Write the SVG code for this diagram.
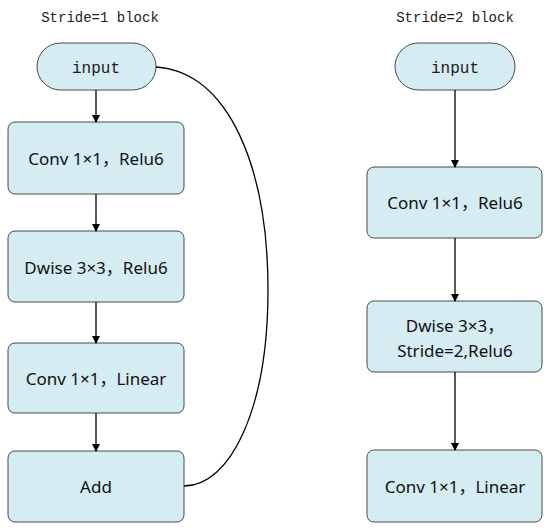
<svg xmlns="http://www.w3.org/2000/svg" width="550" height="530" viewBox="0 0 550 530">
<style>
.box{fill:#d5ecf2;stroke:#4a4a4a;stroke-width:1}
.t{font-family:"Noto Sans","Noto Sans CJK SC",sans-serif;font-size:17px;fill:#111;text-anchor:middle}
.m{font-family:"Liberation Mono","DejaVu Sans Mono",monospace;fill:#222;text-anchor:middle}
.c{fill:none;stroke:#000;stroke-width:1.3}
</style>
<defs>
<marker id="ah" markerWidth="8" markerHeight="8" refX="7" refY="4" orient="auto" markerUnits="userSpaceOnUse">
<path d="M0,0 L8,4 L0,8 Z" fill="#000"/>
</marker>
</defs>
<rect width="550" height="530" fill="#fff"/>
<text class="m" x="100" y="22" font-size="14">Stride=1 block</text>
<text class="m" x="455" y="22" font-size="14">Stride=2 block</text>
<g id="l_input"><rect class="box" x="37" y="43" width="119" height="47" rx="23.5"/><text class="m" x="96" y="73" font-size="16">input</text></g>
<g id="l_conv1"><rect class="box" x="8" y="122" width="176" height="72" rx="7"/><text class="t" x="96" y="165">Conv 1×1，Relu6</text></g>
<g id="l_dwise"><rect class="box" x="8" y="231" width="176" height="71" rx="7"/><text class="t" x="96" y="274">Dwise 3×3，Relu6</text></g>
<g id="l_conv2"><rect class="box" x="8" y="343" width="176" height="70" rx="7"/><text class="t" x="96" y="385">Conv 1×1，Linear</text></g>
<g id="l_add"><rect class="box" x="8" y="451" width="176" height="71" rx="7"/><text class="t" x="96" y="493">Add</text></g>
<g id="r_input"><rect class="box" x="395" y="43" width="120" height="47" rx="23.5"/><text class="m" x="455" y="73" font-size="16">input</text></g>
<g id="r_conv1"><rect class="box" x="367" y="167" width="175" height="71" rx="7"/><text class="t" x="455" y="209">Conv 1×1，Relu6</text></g>
<g id="r_dwise"><rect class="box" x="367" y="301" width="175" height="71" rx="7"/><text class="t" x="455" y="332">Dwise 3×3，</text><text class="t" x="455" y="357">Stride=2,Relu6</text></g>
<g id="r_conv2"><rect class="box" x="367" y="450" width="175" height="72" rx="7"/><text class="t" x="455" y="493">Conv 1×1，Linear</text></g>
<g id="connectors">
<line class="c" x1="96" y1="90" x2="96" y2="122" marker-end="url(#ah)"/>
<line class="c" x1="96" y1="194" x2="96" y2="231" marker-end="url(#ah)"/>
<line class="c" x1="96" y1="302" x2="96" y2="343" marker-end="url(#ah)"/>
<line class="c" x1="96" y1="413" x2="96" y2="451" marker-end="url(#ah)"/>
<path class="c" d="M156,67 C230,72 268,170 268,290 C268,410 230,486 184,486"/>
<line class="c" x1="455" y1="90" x2="455" y2="167" marker-end="url(#ah)"/>
<line class="c" x1="455" y1="238" x2="455" y2="301" marker-end="url(#ah)"/>
<line class="c" x1="455" y1="372" x2="455" y2="450" marker-end="url(#ah)"/>
</g>
</svg>
